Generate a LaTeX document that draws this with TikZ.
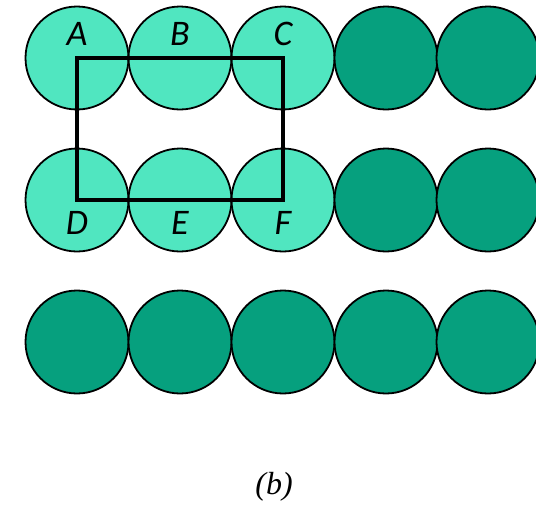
\documentclass[tikz,border=0pt]{standalone}
\usepackage{fontspec}
\setmainfont{Liberation Serif}
\newfontfamily\labelfont{Carlito}
\usetikzlibrary{positioning}

\definecolor{lightball}{RGB}{80,230,192}
\definecolor{darkball}{RGB}{6,160,126}

\begin{document}
\begin{tikzpicture}[
  x=0.5pt, y=-0.5pt,
  ball/.style={circle, draw=black, line width=0.9pt, inner sep=0pt, minimum size=51.5pt},
  light/.style={ball, fill=lightball},
  dark/.style={ball, fill=darkball},
  letter/.style={font=\labelfont\itshape\fontsize{18}{20}\selectfont, inner sep=0pt},
  cell/.style={draw=black, line width=1.6pt}
]
\useasboundingbox (0,0) rectangle (536,505);

% top two rows
\foreach \i/\x in {1/77, 2/180, 3/283} {
  \node[light] (a\i) at (\x,58) {};
  \node[light] (b\i) at (\x,200) {};
}
\foreach \i/\x in {4/386, 5/488} {
  \node[dark] (a\i) at (\x,58) {};
  \node[dark] (b\i) at (\x,200) {};
}
% bottom row
\foreach \i/\x in {1/77, 2/180, 3/283, 4/386, 5/488}
  \node[dark] (c\i) at (\x,342) {};

% unit cell
\draw[cell] (a1.center) rectangle (b3.center);

\node[letter] (A) at (77,34) {A};
\node[letter] (B) at (180,34) {B};
\node[letter] (C) at (283,34) {C};
\node[letter] (D) at (77,223) {D};
\node[letter] (E) at (180,223) {E};
\node[letter] (F) at (283,223) {F};

\node[font=\itshape\fontsize{16}{18}\selectfont] (caption) at (274,487) {(b)};
\end{tikzpicture}
\end{document}
